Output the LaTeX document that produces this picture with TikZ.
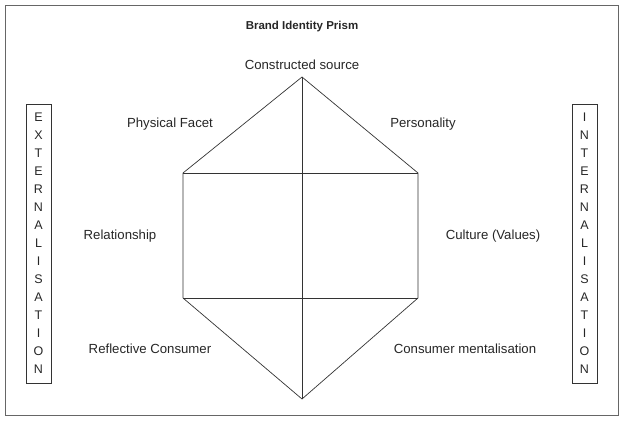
\documentclass[tikz,border=0pt]{standalone}
\usepackage{fontspec}
\setmainfont{Liberation Sans}
\usetikzlibrary{positioning}

\begin{document}
\begin{tikzpicture}[x=1pt, y=-1pt]
        \def\colorline{black!80}
        \def\colortext{black!85}
        \tikzset{facet/.style={
                align=center,
                text=\colortext,
                font=\fontsize{13.2}{15}\selectfont,
                inner sep=1pt
        }}
        \tikzset{sidebar/.style={draw,
                align=center,
                line width = 0.7,
                draw = \colorline,
                text=\colortext,
                font=\fontsize{12.5}{18}\selectfont,
                minimum width = 25,
                minimum height = 279,
                inner sep=0pt
        }}
        \tikzset{edge/.style={line width = 0.7, draw = \colorline}}

        \useasboundingbox (0,0) rectangle (624,422);
        \draw[line width = 0.8, draw = black!60] (5,5) rectangle (618,415);

        \node[facet, font=\bfseries\fontsize{11.5}{14}\selectfont] (title) at (302,27) {Brand Identity Prism};

        % prism corners
        \coordinate (top) at (302,77);
        \coordinate (upleft) at (183,173);
        \coordinate (upright) at (418,173);
        \coordinate (lowleft) at (183,298);
        \coordinate (lowright) at (418,298);
        \coordinate (bottom) at (302,399);
        \coordinate (midtop) at (302,173);
        \coordinate (midlow) at (302,298);

        \draw[edge] (top) -- (upleft) -- (lowleft) -- (bottom) -- (lowright) -- (upright) -- cycle;
        \draw[edge] (upleft) -- (upright);
        \draw[edge] (lowleft) -- (lowright);
        \draw[edge] (top) -- (bottom);

        \node[facet, above=6pt of top] (source) {Constructed source};
        \node[facet] (physical) at (170,124) {Physical Facet};
        \node[facet] (personality) at (423,124) {Personality};
        \node[facet] (relation) at (120,236) {Relationship};
        \node[facet] (culture) at (493,236) {Culture (Values)};
        \node[facet] (reflect) at (150,349) {Reflective Consumer};
        \node[facet] (mental) at (465,349) {Consumer mentalisation};

        \node[sidebar] (extern) at (38.5,243.5) {E\\X\\T\\E\\R\\N\\A\\L\\I\\S\\A\\T\\I\\O\\N};
        \node[sidebar] (intern) at (584.5,243.5) {I\\N\\T\\E\\R\\N\\A\\L\\I\\S\\A\\T\\I\\O\\N};
\end{tikzpicture}
\end{document}
